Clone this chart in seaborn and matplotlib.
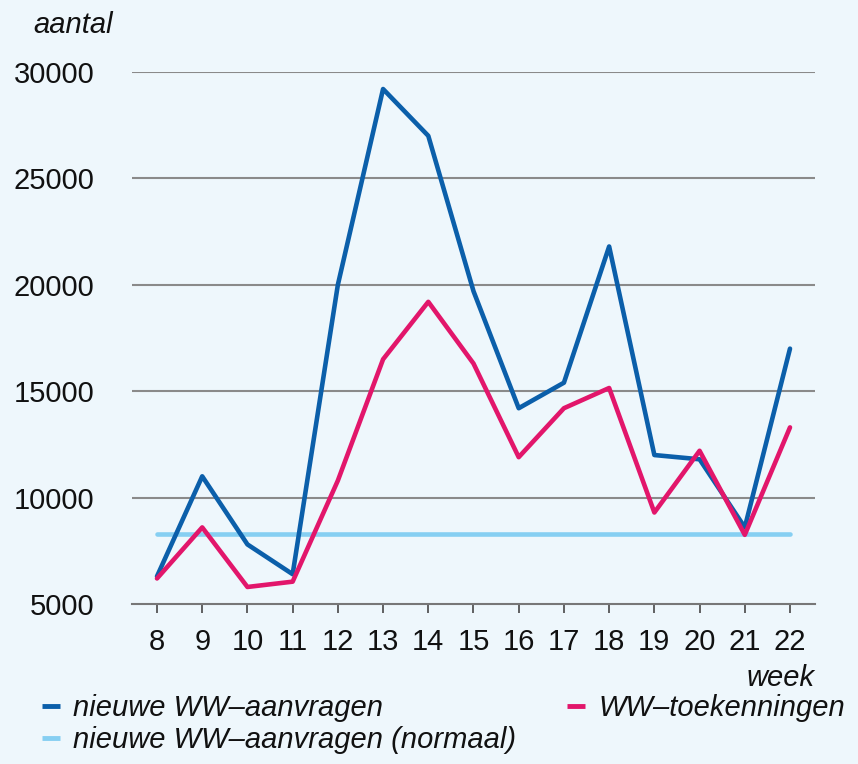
import pandas as pd
import numpy as np
import matplotlib
matplotlib.use('Agg')
import matplotlib.pyplot as plt
import seaborn as sns

# weken en aantallen
weken = list(range(8, 23))
aanvragen = [6300, 11000, 7800, 6400, 20000, 29200, 27000, 19700, 14200, 15400,
             21800, 12000, 11800, 8600, 17000]
toekenningen = [6200, 8600, 5800, 6050, 10800, 16500, 19200, 16300, 11900, 14200,
                15150, 9300, 12200, 8250, 13300]
normaal = [8300] * len(weken)

namen = ['nieuwe WW–aanvragen', 'WW–toekenningen', 'nieuwe WW–aanvragen (normaal)']
kleuren = {namen[0]: '#0B5FAA', namen[1]: '#E2166B', namen[2]: '#86CFF2'}
y_ticks = [5000, 10000, 15000, 20000, 25000, 30000]

df = pd.DataFrame({
    'week': weken * 3,
    'aantal': aanvragen + toekenningen + normaal,
    'reeks': [namen[0]] * 15 + [namen[1]] * 15 + [namen[2]] * 15,
})

bg = '#EEF7FC'
sns.set_style('white')
plt.rcParams['font.family'] = ['Liberation Sans', 'DejaVu Sans']

fig = plt.figure(figsize=(8.58, 7.64), dpi=100, facecolor=bg)
ax = fig.add_axes([132 / 858, 1 - 604 / 764, (815 - 132) / 858, (604 - 72) / 764])
ax.set_facecolor(bg)

# normale lijn onder de andere twee
sns.lineplot(data=df[df['reeks'] == namen[2]], x='week', y='aantal', color=kleuren[namen[2]],
             linewidth=3.3, ax=ax, legend=False, zorder=2)
sns.lineplot(data=df[df['reeks'] != namen[2]], x='week', y='aantal', hue='reeks',
             hue_order=[namen[0], namen[1]], palette=kleuren, linewidth=3.3, ax=ax,
             legend=False, zorder=3)

ax.set_xlim(7.447, 22.553)
ax.set_ylim(5000, 30000)
ax.set_xticks(weken)
ax.set_yticks(y_ticks)
ax.set_xlabel('')
ax.set_ylabel('')
for y in y_ticks[1:]:
    ax.axhline(y, color='#8A8A8A', linewidth=1.5, zorder=1)
for s in ['top', 'left', 'right']:
    ax.spines[s].set_visible(False)
ax.spines['bottom'].set_color('#777777')
ax.spines['bottom'].set_linewidth(1.5)
ax.tick_params(axis='x', bottom=True, direction='out', length=6.5, width=1.3,
               color='#555555', pad=11, labelsize=21, labelcolor='#111111')
ax.tick_params(axis='y', left=False, length=0, pad=27, labelsize=21, labelcolor='#111111')

fig.text(33 / 858, 1 - 25 / 764, 'aantal', fontsize=21, style='italic',
         ha='left', va='center', color='#111111')
fig.text(815 / 858, 1 - 678 / 764, 'week', fontsize=21, style='italic',
         ha='right', va='center', color='#111111')

# legenda
handles = []
for n in [namen[0], namen[2], namen[1]]:
    h = plt.Line2D([], [], color=kleuren[n], linewidth=3.5, solid_capstyle='butt')
    handles.append(h)
leg = fig.legend(handles, [namen[0], namen[2], namen[1]], loc='upper left',
                 bbox_to_anchor=(42 / 858, 1 - 694 / 764), ncol=2, frameon=False,
                 fontsize=21, handlelength=0.62, handletextpad=0.45,
                 columnspacing=1.75, labelspacing=0.15, borderpad=0, borderaxespad=0)
for t in leg.get_texts():
    t.set_style('italic')
    t.set_color('#111111')

fig.savefig('out.png', dpi=100, facecolor=bg)
